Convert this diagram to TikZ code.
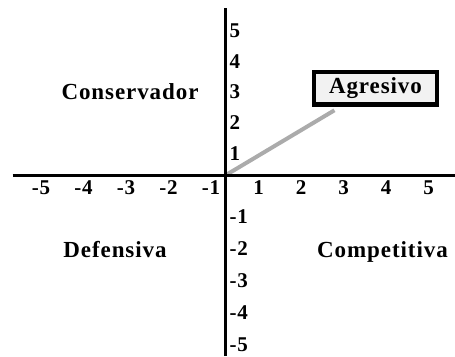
\documentclass[tikz,border=0pt]{standalone}
\usepackage{fontspec}
\setmainfont{Liberation Serif}[LetterSpace=4]
\usetikzlibrary{positioning,backgrounds}
\definecolor{linkgray}{HTML}{ABABAB}
\definecolor{boxgray}{HTML}{F2F2F2}
\tikzset{
  quad/.style={font=\fontsize{23}{25}\selectfont\bfseries,inner sep=0pt,anchor=base},
  ticklab/.style={font=\fontsize{21}{23}\selectfont\bfseries,inner sep=0pt},
  stratbox/.style={draw,line width=4.5pt,fill=boxgray,minimum width=123pt,minimum height=32.5pt,
    inner sep=0pt,font=\fontsize{23}{25}\selectfont\bfseries},
}

\begin{document}
\begin{tikzpicture}[x=42.5pt,y=31.5pt]
      \useasboundingbox (-5.306,-5.737) rectangle (5.4,5.565);
      \coordinate (O) at (0,0);
      \coordinate (xmin) at (-5.01,0);
      \coordinate (xmax) at (5.4,0);
      \coordinate (ymin) at (0,-5.737);
      \coordinate (ymax) at (0,5.3);
      \draw[line width=3pt] (xmin) -- (xmax);
      \draw[line width=3pt] (ymin) -- (ymax);
      \foreach \i in {1,...,5}{
        \node[ticklab] (xp\i) at (\i-0.22,-0.403) {\i};
        \node[ticklab] (xn\i) at (-\i+0.66,-0.403) {-\i};
        \node[ticklab,anchor=west] (yp\i) at (0.09,0.975*\i-0.28) {\i};
        \node[ticklab,anchor=west] (yn\i) at (0.09,-1.013*\i-0.31) {-\i};
      }
      \node[quad] (cons) at (-2.247,2.422) {Conservador};
      \node[quad] (def) at (-2.6,-2.594) {Defensiva};
      \node[quad] (comp) at (3.694,-2.594) {Competitiva};
      \node[stratbox] (agr) at (3.529,2.756) {Agresivo};
      \coordinate (tip) at ([xshift=22.7pt,yshift=-3.3pt]agr.south west);
      \begin{scope}[on background layer]
        \draw[linkgray,line width=4pt] (O) -- (tip);
      \end{scope}
    \end{tikzpicture}
\end{document}
